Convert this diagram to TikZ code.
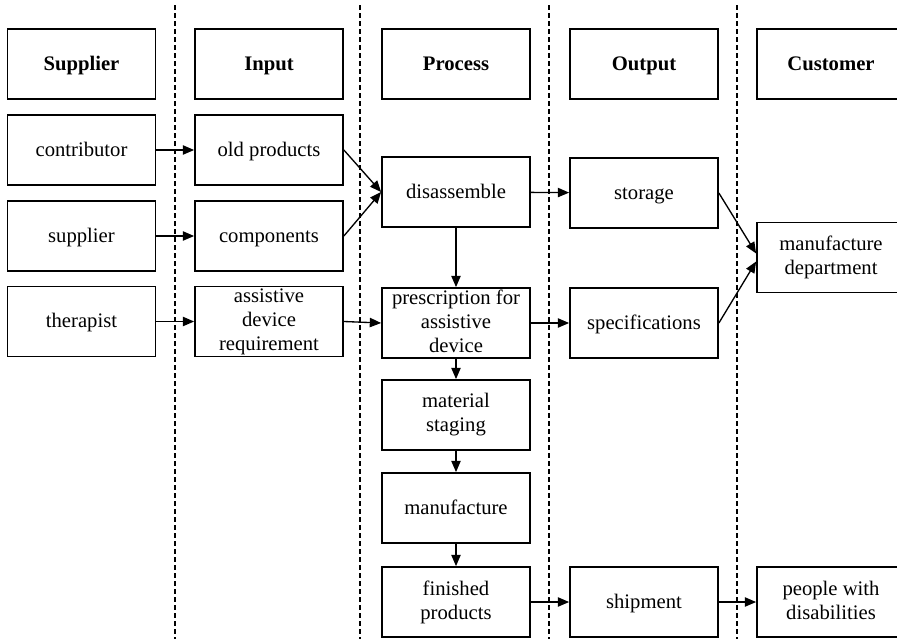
\documentclass[tikz,border=0pt]{standalone}
\usepackage{fontspec}
\setmainfont{Liberation Serif}
\usetikzlibrary{arrows.meta}

\newcommand{\boxstrut}{\rule[-3pt]{0pt}{16pt}}

\tikzset{
  box/.style={draw, line width=1.3pt, minimum width=111pt, minimum height=52.5pt,
    inner sep=0pt, align=center, execute at begin node=\boxstrut,
    font=\fontsize{15.5pt}{18pt}\selectfont},
  headbox/.style={box, font=\fontsize{15.5pt}{18pt}\selectfont\bfseries},
  arr/.style={line width=1pt, -{Triangle[length=8.5pt,width=7pt]}},
  lane/.style={line width=1pt, dash pattern=on 3.5pt off 2.5pt}
}

\begin{document}
\begin{tikzpicture}[x=0.75pt,y=-0.75pt]
            \useasboundingbox (0,0) rectangle (897,639);
            \clip (0,0) rectangle (897,639);

            \foreach \x in {175,360,549,737}
                \draw[lane] (\x,5) -- (\x,639);

            % headings
            \node[headbox] (hsup) at (81.5,64) {Supplier};
            \node[headbox] (hin) at (269,64) {Input};
            \node[headbox] (hproc) at (456,64) {Process};
            \node[headbox] (hout) at (644,64) {Output};
            \node[headbox] (hcust) at (831,64) {Customer};

            % suppliers and inputs
            \node[box] (contrib) at (81.5,150) {contributor};
            \node[box] (supp) at (81.5,236) {supplier};
            \node[box] (therap) at (81.5,321.5) {therapist};
            \node[box] (oldprod) at (269,150) {old products};
            \node[box] (comp) at (269,236) {components};
            \node[box] (req) at (269,321.5) {assistive\\device\\requirement};

            % process
            \node[box] (disasm) at (456,192) {disassemble};
            \node[box] (presc) at (456,323) {prescription for\\assistive\\device};
            \node[box] (staging) at (456,415) {material\\staging};
            \node[box] (manuf) at (456,508) {manufacture};
            \node[box] (finished) at (456,602) {finished\\products};

            % outputs and customers
            \node[box] (storage) at (644,193) {storage};
            \node[box] (specs) at (644,323) {specifications};
            \node[box] (shipment) at (644,602) {shipment};
            \node[box] (dept) at (831,257.5) {manufacture\\department};
            \node[box] (people) at (831,602) {people with\\disabilities};

            \draw[arr] (contrib) -- (oldprod);
            \draw[arr] (supp) -- (comp);
            \draw[arr] (therap) -- (req);
            \draw[arr] (oldprod.east) -- (disasm.west);
            \draw[arr] (comp.east) -- (disasm.west);
            \draw[arr] (req.east) -- (presc.west);
            \draw[arr] (disasm) -- (storage);
            \draw[arr] (presc) -- (specs);
            \draw[arr] (disasm) -- (presc);
            \draw[arr] (presc) -- (staging);
            \draw[arr] (staging) -- (manuf);
            \draw[arr] (manuf) -- (finished);
            \draw[arr] (finished) -- (shipment);
            \draw[arr] (shipment) -- (people);
            \draw[arr] (storage.east) -- ([yshift=3pt]dept.west);
            \draw[arr] (specs.east) -- ([yshift=-3pt]dept.west);
        \end{tikzpicture}
\end{document}
